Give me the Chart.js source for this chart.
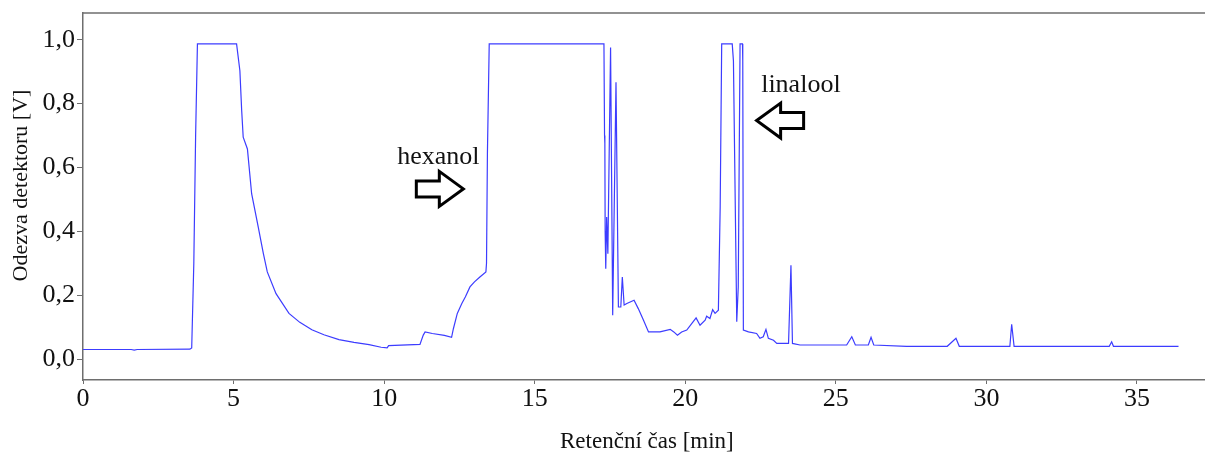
<!DOCTYPE html>
<html lang="cs">
  <head>
    <meta charset="utf-8" />
    <title>Chromatogram</title>
    <style>
      * {
        margin: 0;
        padding: 0;
      }
      body {
        background: #fff;
      }
      .chartBox {
        width: 1205px;
        height: 454px;
      }
    </style>
  </head>
  <body>
    <div class="chartBox">
      <canvas id="myChart" width="1205" height="454"></canvas>
    </div>

    <script src="https://cdn.jsdelivr.net/npm/chart.js"></script>

    <script>
      // retention time [min] and detector response [V]
      const times = [
        0.0, 1.6, 1.7, 1.8, 3.55, 3.61, 3.68, 3.74, 3.8, 5.1, 5.21, 5.27, 5.32,
        5.46, 5.6, 5.82, 5.99, 6.12, 6.41, 6.84, 7.2, 7.6, 8.0, 8.5, 9.0, 9.5,
        9.9, 10.1, 10.15, 11.19, 11.3, 11.36, 11.6, 12.0, 12.24, 12.3, 12.43,
        12.58, 12.7, 12.85, 13.0, 13.18, 13.38, 13.4, 13.43, 13.49, 17.3, 17.32,
        17.33, 17.34, 17.36, 17.39, 17.43, 17.52, 17.59, 17.7, 17.78, 17.86,
        17.91, 17.97, 18.06, 18.3, 18.44, 18.61, 18.78, 19.16, 19.5, 19.62,
        19.74, 19.88, 20.05, 20.22, 20.36, 20.49, 20.66, 20.71, 20.82, 20.91,
        20.99, 21.1, 21.16, 21.21, 21.56, 21.6, 21.71, 21.76, 21.82, 21.9,
        21.91, 21.93, 22.1, 22.37, 22.48, 22.59, 22.68, 22.76, 22.93, 23.04,
        23.43, 23.51, 23.56, 23.81, 24.25, 25.36, 25.53, 25.65, 26.08, 26.17,
        26.26, 27.35, 28.7, 28.99, 29.1, 30.4, 30.78, 30.84, 30.92, 34.08,
        34.16, 34.22, 36.38,
      ];
      const signal = [
        0.03, 0.03, 0.028, 0.03, 0.031, 0.035, 0.3, 0.7, 0.987, 0.987, 0.903,
        0.778, 0.695, 0.658, 0.518, 0.413, 0.33, 0.273, 0.205, 0.143, 0.115,
        0.092, 0.076, 0.061, 0.052, 0.045, 0.037, 0.035, 0.042, 0.046, 0.075,
        0.085, 0.08, 0.074, 0.068, 0.095, 0.143, 0.174, 0.195, 0.226, 0.242,
        0.257, 0.273, 0.3, 0.643, 0.987, 0.987, 0.7, 0.675, 0.4, 0.283, 0.445,
        0.33, 0.976, 0.1375, 0.867, 0.163, 0.163, 0.257, 0.169, 0.174, 0.184,
        0.158, 0.122, 0.085, 0.085, 0.093, 0.085, 0.075, 0.085, 0.091, 0.112,
        0.129, 0.106, 0.122, 0.134, 0.127, 0.155, 0.143, 0.153, 0.476, 0.987,
        0.987, 0.934, 0.117, 0.226, 0.987, 0.987, 0.934, 0.091, 0.085, 0.08,
        0.065, 0.07, 0.093, 0.065, 0.059, 0.049, 0.049, 0.294, 0.049, 0.044,
        0.044, 0.044, 0.07, 0.044, 0.044, 0.068, 0.044, 0.04, 0.04, 0.065,
        0.04, 0.04, 0.04, 0.109, 0.04, 0.04, 0.054, 0.04, 0.04,
      ];

      const xTicks = [0, 5, 10, 15, 20, 25, 30, 35];
      const yTicks = [0, 0.2, 0.4, 0.6, 0.8, 1.0];

      // labelled peaks: text anchor and arrow tip in data units
      const noteLabels = ["hexanol", "linalool"];
      const noteTextX = [11.8, 23.84];
      const noteTextY = [0.612, 0.835];
      const arrowTipX = [12.63, 22.37];
      const arrowTipY = [0.533, 0.747];
      const arrowDir = [1, -1];

      const AXIS_COLOR = "#6e6e6e";
      const TEXT_COLOR = "#111";
      const SERIF = "'Liberation Serif', 'Times New Roman', serif";

      Chart.defaults.font.family = SERIF;
      Chart.defaults.color = TEXT_COLOR;

      function blockArrow(ctx, tipX, midY, dir) {
        const head = 24;
        const len = 47;
        const halfHead = 17.5;
        const halfShaft = 8;
        ctx.beginPath();
        ctx.moveTo(tipX, midY);
        ctx.lineTo(tipX - dir * head, midY - halfHead);
        ctx.lineTo(tipX - dir * head, midY - halfShaft);
        ctx.lineTo(tipX - dir * len, midY - halfShaft);
        ctx.lineTo(tipX - dir * len, midY + halfShaft);
        ctx.lineTo(tipX - dir * head, midY + halfShaft);
        ctx.lineTo(tipX - dir * head, midY + halfHead);
        ctx.closePath();
        ctx.fillStyle = "#fff";
        ctx.fill();
        ctx.lineWidth = 3;
        ctx.lineJoin = "miter";
        ctx.strokeStyle = "#000";
        ctx.stroke();
      }

      const annotations = {
        id: "annotations",
        afterDraw(chart) {
          const {
            ctx,
            scales: { x, y },
          } = chart;
          ctx.save();
          noteLabels.forEach((label, i) => {
            ctx.font = "26px " + SERIF;
            ctx.textAlign = "center";
            ctx.textBaseline = "alphabetic";
            ctx.fillStyle = TEXT_COLOR;
            ctx.fillText(
              label,
              x.getPixelForValue(noteTextX[i]),
              y.getPixelForValue(noteTextY[i])
            );
            blockArrow(
              ctx,
              x.getPixelForValue(arrowTipX[i]),
              y.getPixelForValue(arrowTipY[i]),
              arrowDir[i]
            );
          });
          ctx.restore();
        },
      };

      const topBorder = {
        id: "topBorder",
        afterDraw(chart) {
          const {
            ctx,
            chartArea: { top, left, right },
          } = chart;
          ctx.save();
          ctx.strokeStyle = AXIS_COLOR;
          ctx.lineWidth = 1.5;
          ctx.beginPath();
          ctx.moveTo(left, top);
          ctx.lineTo(right, top);
          ctx.stroke();
          ctx.restore();
        },
      };

      const config = {
        type: "line",
        data: {
          datasets: [
            {
              data: times.map((t, i) => ({ x: t, y: signal[i] })),
              borderColor: "#3c3cff",
              borderWidth: 1.2,
              pointRadius: 0,
              tension: 0,
              fill: false,
            },
          ],
        },
        options: {
          responsive: false,
          animation: false,
          layout: {
            padding: { top: 13, right: 0, bottom: 0, left: 0 },
          },
          plugins: {
            legend: { display: false },
            tooltip: { enabled: false },
          },
          scales: {
            x: {
              type: "linear",
              min: 0,
              max: 37.26,
              afterBuildTicks: (s) => {
                s.ticks = xTicks.map((v) => ({ value: v }));
              },
              afterFit: (s) => {
                s.height = 74;
              },
              grid: {
                drawOnChartArea: false,
                drawTicks: true,
                tickLength: 4,
                tickColor: AXIS_COLOR,
              },
              border: { color: AXIS_COLOR, width: 1.5 },
              ticks: {
                font: { size: 26 },
                padding: 0,
                maxRotation: 0,
                autoSkip: false,
              },
              title: {
                display: true,
                text: "\u00a0Retenční čas [min]",
                font: { size: 23, lineHeight: 0.8 },
                padding: { top: 0, bottom: 3 },
              },
            },
            y: {
              min: -0.0656,
              max: 1.084,
              afterBuildTicks: (s) => {
                s.ticks = yTicks.map((v) => ({ value: v }));
              },
              afterFit: (s) => {
                s.width = 83;
                s.paddingTop = 0;
                s.paddingBottom = 0;
              },
              grid: {
                drawOnChartArea: false,
                drawTicks: true,
                tickLength: 6,
                tickColor: AXIS_COLOR,
              },
              border: { color: AXIS_COLOR, width: 1.5 },
              ticks: {
                font: { size: 26 },
                padding: 2,
                callback: (v) => v.toFixed(1).replace(".", ","),
              },
              title: {
                display: true,
                // leading spaces lift the rotated title to where it sits in the original
                text: "\u00a0\u00a0\u00a0\u00a0Odezva detektoru [V]",
                font: { size: 22, lineHeight: 1 },
                padding: { top: 10, bottom: 0 },
              },
            },
          },
        },
        plugins: [topBorder, annotations],
      };

      const myChart = new Chart(document.getElementById("myChart"), config);
    </script>
  </body>
</html>
